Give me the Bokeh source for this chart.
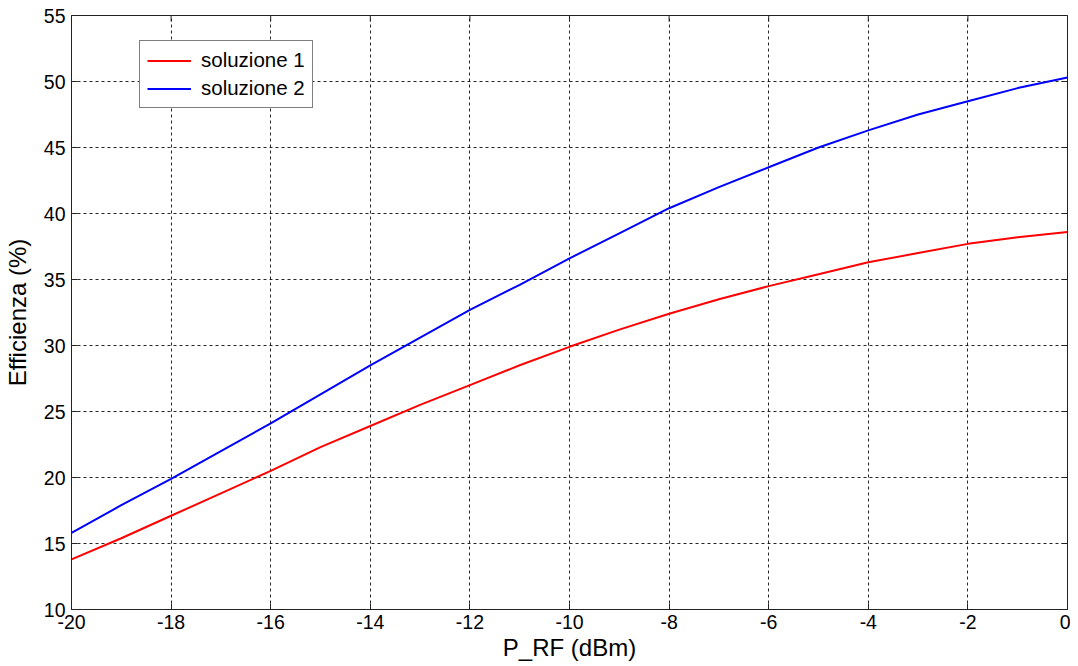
import math
from bokeh.plotting import figure
from bokeh.models import Legend, LegendItem, FixedTicker, Range1d
from bokeh.embed import file_html
from bokeh.resources import INLINE

p_rf = [-20, -19, -18, -17, -16, -15, -14, -13, -12, -11, -10, -9, -8, -7, -6, -5, -4, -3, -2, -1, 0]
soluzione_1 = [13.8, 15.4, 17.1, 18.8, 20.5, 22.3, 23.9, 25.5, 27.0, 28.5, 29.9, 31.2, 32.4, 33.5, 34.5, 35.4, 36.3, 37.0, 37.7, 38.2, 38.6]
soluzione_2 = [15.8, 17.9, 19.9, 22.0, 24.1, 26.3, 28.5, 30.6, 32.7, 34.6, 36.6, 38.5, 40.4, 42.0, 43.5, 45.0, 46.3, 47.5, 48.5, 49.5, 50.3]
x_ticks = [-20, -18, -16, -14, -12, -10, -8, -6, -4, -2, 0]
y_ticks = [10, 15, 20, 25, 30, 35, 40, 45, 50, 55]
x_min, x_max = -20, 0
y_min, y_max = 10, 55

FONT = "Liberation Sans"

p = figure(width=1070, height=666, output_backend="svg", toolbar_location=None,
           x_range=Range1d(x_min, x_max), y_range=Range1d(y_min, y_max),
           min_border_left=70, min_border_right=3, min_border_top=15, min_border_bottom=57)
p.background_fill_color = "white"
p.border_fill_color = "white"
p.outline_line_color = "#222222"
p.outline_line_width = 1

for ax in (p.xaxis[0], p.yaxis[0]):
    ax.major_label_text_font = FONT
    ax.major_label_text_font_size = "19.5px"
    ax.major_label_text_color = "black"
    ax.axis_label_text_font = FONT
    ax.axis_label_text_font_size = "24px"
    ax.axis_label_text_font_style = "normal"
    ax.axis_label_text_color = "black"
    ax.major_tick_in = 6
    ax.major_tick_out = 0
    ax.minor_tick_in = 0
    ax.minor_tick_out = 0
    ax.axis_line_color = "#222222"
    ax.major_tick_line_color = "#222222"

p.xaxis[0].ticker = FixedTicker(ticks=x_ticks)
p.yaxis[0].ticker = FixedTicker(ticks=y_ticks)
p.xaxis[0].major_label_overrides = {t: str(t) for t in x_ticks}
p.yaxis[0].major_label_overrides = {t: str(t) for t in y_ticks}
p.xaxis[0].axis_label = "P_RF (dBm)"
p.yaxis[0].axis_label = "Efficienza (%)"
p.xaxis[0].major_label_standoff = 5
p.yaxis[0].major_label_standoff = 6
p.xaxis[0].axis_label_standoff = 2
p.yaxis[0].axis_label_standoff = 10

p.xgrid.ticker = FixedTicker(ticks=x_ticks)
p.ygrid.ticker = FixedTicker(ticks=y_ticks)
for g in (p.xgrid[0], p.ygrid[0]):
    g.grid_line_color = "black"
    g.grid_line_dash = "3 3"
    g.grid_line_width = 1
    g.grid_line_alpha = 0.85

# mirrored tick marks on the top and right edges of the box
p.scatter(x_ticks, [y_max] * len(x_ticks), marker="dash", size=12, angle=math.pi / 2,
          line_color="#222222", line_width=1)
p.scatter([x_max] * len(y_ticks), y_ticks, marker="dash", size=12, angle=0,
          line_color="#222222", line_width=1)

r1 = p.line(p_rf, soluzione_1, line_color="#ff0000", line_width=2)
r2 = p.line(p_rf, soluzione_2, line_color="#0000ff", line_width=2)

legend = Legend(items=[LegendItem(label="soluzione 1", renderers=[r1]),
                       LegendItem(label="soluzione 2", renderers=[r2])],
                location=(68, 501))
legend.label_text_font = FONT
legend.label_text_font_size = "20.5px"
legend.label_text_color = "black"
legend.glyph_width = 44
legend.glyph_height = 23
legend.label_height = 23
legend.spacing = 4
legend.padding = 7
legend.margin = 0
legend.label_standoff = 10
legend.border_line_color = "black"
legend.border_line_width = 1
legend.background_fill_color = "white"
legend.background_fill_alpha = 1
p.add_layout(legend, "center")

open("out.html", "w").write(file_html(p, INLINE))
